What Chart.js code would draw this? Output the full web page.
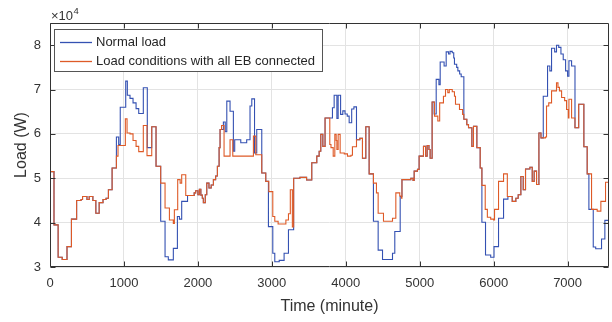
<!DOCTYPE html>
<html>
<head>
<meta charset="utf-8">
<script src="https://cdn.jsdelivr.net/npm/chart.js@4.4.0/dist/chart.umd.min.js"></script>
<style>
html,body{margin:0;padding:0;background:#ffffff;}
#wrap{width:612px;height:322px;}
</style>
</head>
<body>
<div id="wrap"><canvas id="c" width="612" height="322"></canvas></div>
<script>
// ---------------- DATA ----------------
const xTickValues = [0, 1000, 2000, 3000, 4000, 5000, 6000, 7000];
const yTickValues = [30000, 40000, 50000, 60000, 70000, 80000];
const seriesNames = ['Normal load', 'Load conditions with all EB connected'];
const xAxisTitle = 'Time (minute)';
const yAxisTitle = 'Load (W)';
const timeRange = [0, 7560];
const loadRange = [30000, 85000];

// [time (minute), load (W)] — value holds from that time on
const normalLoad = [
  [0,51500],[54,39500],[110,32200],[165,31700],[230,34600],[290,40800],[360,45000],[420,45200],
  [440,45900],[500,45200],[530,45900],[580,45000],[620,42100],[665,44500],[717,45200],[758,45500],
  [790,47400],[840,52300],[898,59300],[929,57600],[950,66000],[1024,71900],[1046,68700],[1082,68000],
  [1123,67000],[1164,65700],[1200,64600],[1262,70400],[1316,56900],[1376,61600],[1434,52700],[1497,40300],
  [1556,32300],[1600,31600],[1668,34200],[1723,41400],[1750,40800],[1781,44800],[1860,46100],[1950,46700],
  [1970,47200],[2000,46300],[2020,47500],[2040,46200],[2060,45500],[2074,44500],[2100,46300],[2120,48900],
  [2150,47800],[2180,48500],[2210,49700],[2240,50500],[2264,52700],[2287,56900],[2300,61000],[2345,62700],
  [2370,60500],[2391,67400],[2435,65100],[2480,56100],[2498,58700],[2580,58000],[2660,58700],[2705,66300],
  [2729,67900],[2766,55700],[2796,61000],[2864,51200],[2918,49300],[2954,39100],[3013,33100],[3040,31200],
  [3100,31500],[3166,33100],[3225,38400],[3295,50000],[3380,50200],[3470,49600],[3540,53500],[3608,55000],
  [3640,56100],[3662,59900],[3690,57200],[3720,63600],[3820,65900],[3843,68700],[3880,63500],[3897,68700],
  [3930,64400],[3960,65200],[3990,64500],[4020,64000],[4046,62500],[4080,65600],[4110,66100],[4145,58700],
  [4190,59000],[4226,54500],[4271,61600],[4316,51000],[4374,40300],[4438,33800],[4497,31700],[4632,33100],
  [4663,38000],[4736,45900],[4760,49700],[4880,50000],[4910,49500],[4925,51600],[4970,52000],[4992,55000],
  [5051,57200],[5080,55000],[5101,57400],[5125,56500],[5141,54500],[5168,67200],[5195,64500],[5223,72300],
  [5260,71100],[5277,76200],[5330,75300],[5358,78500],[5390,78000],[5410,78600],[5440,78300],[5460,77100],
  [5470,75700],[5500,75000],[5516,74200],[5540,73500],[5561,72900],[5597,63300],[5637,62100],[5660,61400],
  [5705,57200],[5727,61700],[5773,56900],[5818,52300],[5841,40100],[5890,32700],[5960,32200],[6005,34600],
  [6066,41000],[6134,45300],[6193,45900],[6251,44800],[6300,45500],[6332,46300],[6368,50400],[6400,47400],
  [6431,52100],[6490,52500],[6522,49300],[6548,51600],[6580,48600],[6612,60200],[6640,59100],[6671,68500],
  [6729,75300],[6760,74200],[6783,79300],[6825,78500],[6850,80000],[6880,79500],[6910,78000],[6941,76700],
  [6973,74200],[7000,73000],[7018,76500],[7054,75300],[7100,61400],[7150,66700],[7220,57100],[7265,51000],
  [7288,43000],[7347,34500],[7380,34100],[7459,36300],[7504,40500],[7560,40500]
];

const ebLoad = [
  [0,51500],[54,39500],[110,32200],[165,31700],[230,34600],[290,40800],[360,45000],[420,45200],
  [440,45900],[500,45200],[530,45900],[580,45000],[620,42100],[665,44500],[717,45200],[758,45500],
  [790,47400],[840,52300],[898,55000],[920,57400],[1019,63400],[1042,60200],[1082,60000],[1123,58500],
  [1164,57200],[1200,56000],[1262,61900],[1312,55100],[1376,61600],[1434,52700],[1497,48900],[1556,43300],
  [1615,40600],[1668,39800],[1682,42900],[1727,49700],[1760,48900],[1781,50800],[1836,46100],[1950,46700],
  [1970,47200],[2000,46300],[2020,47500],[2040,46200],[2060,45500],[2074,44500],[2100,46300],[2120,48900],
  [2150,47800],[2180,48500],[2210,49700],[2240,50500],[2264,52700],[2287,56900],[2300,61000],[2320,61900],
  [2354,55000],[2435,58700],[2472,55000],[2751,59500],[2783,55300],[2864,51200],[2918,49300],[2960,47000],
  [3013,41400],[3040,40300],[3085,39700],[3190,40600],[3225,42000],[3250,47400],[3278,39000],[3295,50000],
  [3380,50200],[3470,49600],[3540,53500],[3608,55000],[3640,56100],[3662,59900],[3690,57200],[3720,63600],
  [3784,57600],[3800,56900],[3830,55000],[3852,59900],[3870,58500],[3880,56500],[3897,59900],[3924,55700],
  [3980,55500],[4023,55000],[4070,55200],[4090,57100],[4145,58700],[4190,59000],[4226,54500],[4271,61600],
  [4316,51000],[4374,48900],[4415,46700],[4438,42100],[4510,40300],[4632,41000],[4677,46700],[4730,46000],
  [4753,45500],[4760,49700],[4880,50000],[4910,49500],[4925,51600],[4970,52000],[4992,55000],[5051,57200],
  [5080,55000],[5101,57400],[5125,56500],[5141,54500],[5168,67200],[5200,64000],[5245,62900],[5270,67000],
  [5321,68500],[5349,70000],[5380,69300],[5400,70000],[5440,69500],[5470,68500],[5484,66700],[5538,65500],
  [5580,64400],[5597,63300],[5637,62100],[5660,61400],[5705,57200],[5727,61700],[5773,56900],[5818,52300],
  [5841,48400],[5886,43000],[5915,41200],[5960,40800],[6000,40600],[6012,43000],[6066,49300],[6134,51000],
  [6185,45900],[6251,44800],[6300,45500],[6332,46300],[6368,50400],[6400,47400],[6431,52100],[6490,52500],
  [6522,49300],[6548,51600],[6580,48600],[6612,60200],[6640,59100],[6700,59300],[6715,66300],[6745,67000],
  [6783,69700],[6850,71500],[6870,70500],[6890,69700],[6919,68200],[6960,67500],[6986,65500],[7010,63600],
  [7018,67800],[7054,63600],[7100,61400],[7150,66700],[7220,57100],[7265,51000],[7324,43000],[7400,42600],
  [7450,44800],[7513,49100],[7560,49100]
];

// ---------------- STYLE ----------------
const BLUE = '#3451B2';
const ORANGE = '#DE5A27';
const FONT = '"Liberation Sans", Arial, Helvetica, sans-serif';
const AXIS_COLOR = '#333333';

const toPoints = arr => arr.map(p => ({x: p[0], y: p[1]}));

const framePlugin = {
  id: 'framePlugin',
  afterDraw(chart) {
    const {ctx, chartArea: a, scales} = chart;
    const L = Math.round(a.left) + 0.5, R = Math.round(a.right) - 0.5;
    const T = Math.round(a.top) + 0.5, B = Math.round(a.bottom) - 0.5;
    ctx.save();
    ctx.strokeStyle = AXIS_COLOR;
    ctx.lineWidth = 1;
    ctx.beginPath();
    ctx.rect(L, T, R - L, B - T);
    ctx.stroke();
    const tl = 5;
    ctx.beginPath();
    xTickValues.forEach(v => {
      const px = Math.round(scales.x.getPixelForValue(v)) + 0.5;
      ctx.moveTo(px, B); ctx.lineTo(px, B - tl);
      ctx.moveTo(px, T); ctx.lineTo(px, T + tl);
    });
    yTickValues.forEach(v => {
      const py = Math.round(scales.y.getPixelForValue(v)) + 0.5;
      ctx.moveTo(L, py); ctx.lineTo(L + tl, py);
      ctx.moveTo(R, py); ctx.lineTo(R - tl, py);
    });
    ctx.stroke();

    // exponent label
    ctx.fillStyle = AXIS_COLOR;
    ctx.textBaseline = 'alphabetic';
    ctx.textAlign = 'left';
    ctx.font = '13px ' + FONT;
    const base = '\u00D710';
    ctx.fillText(base, a.left + 1, 19.5);
    const w = ctx.measureText(base).width;
    ctx.font = '9.5px ' + FONT;
    ctx.fillText('4', a.left + 1 + w + 0.5, 13.5);

    // legend
    const lx = 54.5, ly = 29.5, lw = 268, lh = 42;
    ctx.fillStyle = '#ffffff';
    ctx.fillRect(lx, ly, lw, lh);
    ctx.strokeStyle = '#555555';
    ctx.strokeRect(lx, ly, lw, lh);
    const colors = [BLUE, ORANGE];
    const rows = [42, 61];
    ctx.font = '13px ' + FONT;
    ctx.textBaseline = 'middle';
    seriesNames.forEach((name, i) => {
      ctx.strokeStyle = colors[i];
      ctx.lineWidth = 1.3;
      ctx.beginPath();
      ctx.moveTo(60, rows[i] + 0.5);
      ctx.lineTo(92, rows[i] + 0.5);
      ctx.stroke();
      ctx.fillStyle = '#262626';
      ctx.fillText(name, 96, rows[i] + 0.5);
    });
    ctx.restore();
  }
};

new Chart(document.getElementById('c'), {
  type: 'line',
  data: {
    datasets: [
      {label: seriesNames[0], data: toPoints(normalLoad), borderColor: BLUE, borderWidth: 1.1,
       pointRadius: 0, stepped: true, fill: false, order: 1},
      {label: seriesNames[1], data: toPoints(ebLoad), borderColor: ORANGE, borderWidth: 1.1,
       pointRadius: 0, stepped: true, fill: false, order: 0}
    ]
  },
  options: {
    responsive: false,
    animation: false,
    devicePixelRatio: 1,
    layout: {padding: {top: 23, right: 3, left: 0, bottom: 0}},
    plugins: {legend: {display: false}, tooltip: {enabled: false}},
    scales: {
      x: {
        type: 'linear',
        min: timeRange[0], max: timeRange[1],
        afterBuildTicks: s => { s.ticks = xTickValues.map(v => ({value: v})); },
        afterFit: s => { s.height = 55; },
        grid: {color: '#e3e3e3', lineWidth: 1, drawTicks: false},
        border: {display: false},
        ticks: {color: AXIS_COLOR, font: {family: FONT, size: 13}, padding: 9, maxRotation: 0,
                callback: v => String(v)},
        title: {display: true, text: xAxisTitle, color: AXIS_COLOR,
                font: {family: FONT, size: 16}, padding: {top: 0, bottom: 6}}
      },
      y: {
        type: 'linear',
        min: loadRange[0], max: loadRange[1],
        afterBuildTicks: s => { s.ticks = yTickValues.map(v => ({value: v})); },
        afterFit: s => { s.width = 50; },
        grid: {color: '#e3e3e3', lineWidth: 1, drawTicks: false},
        border: {display: false},
        ticks: {color: AXIS_COLOR, font: {family: FONT, size: 13}, padding: 9,
                callback: v => String(v / 10000)},
        title: {display: true, text: yAxisTitle, color: AXIS_COLOR,
                font: {family: FONT, size: 16}, padding: {top: 12, bottom: 0}}
      }
    }
  },
  plugins: [framePlugin]
});
</script>
</body>
</html>
